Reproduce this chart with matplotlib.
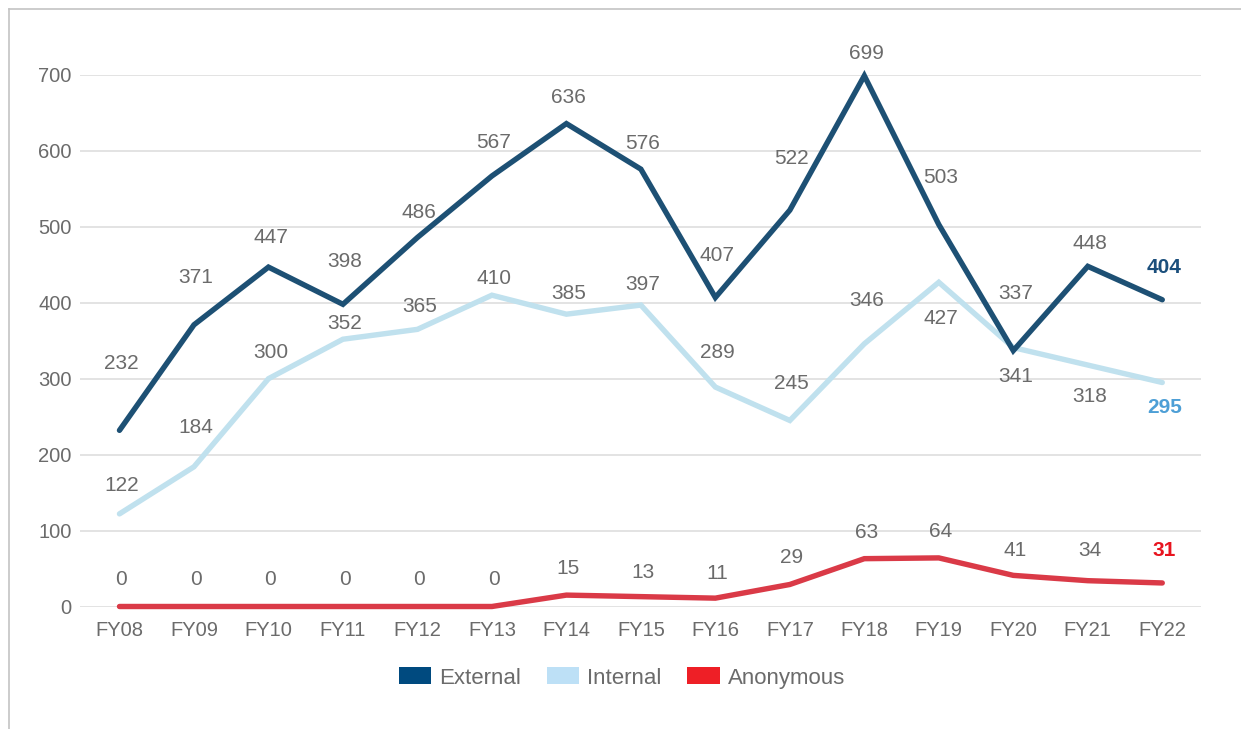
import matplotlib
matplotlib.use("Agg")
import matplotlib.pyplot as plt
from matplotlib.patches import Patch
from matplotlib.lines import Line2D

# ---- data -------------------------------------------------------------
years = ["FY08", "FY09", "FY10", "FY11", "FY12", "FY13", "FY14", "FY15",
         "FY16", "FY17", "FY18", "FY19", "FY20", "FY21", "FY22"]
external = [232, 371, 447, 398, 486, 567, 636, 576, 407, 522, 699, 503, 337, 448, 404]
internal = [122, 184, 300, 352, 365, 410, 385, 397, 289, 245, 346, 427, 341, 318, 295]
anonymous = [0, 0, 0, 0, 0, 0, 15, 13, 11, 29, 63, 64, 41, 34, 31]
y_ticks = [0, 100, 200, 300, 400, 500, 600, 700]

# label placement (pixels above the point; negative = below)
ext_label_dy = [67, 47, 30, 43, 25, 33, 26, 26, 42, 52, 22, 47, 57, 23, 32]
int_label_dy = [28, 39, 26, 16, 23, 17, 21, 21, 35, 37, 43, -36, -29, -31, -25]
anon_label_dy = [27, 27, 27, 27, 27, 27, 27, 24, 25, 27, 26, 26, 25, 30, 32]

# ---- styling ----------------------------------------------------------
FONT = ["Liberation Sans", "DejaVu Sans"]
plt.rcParams["font.family"] = FONT
TEXT_GRAY = "#6b6b6b"
EXT_LINE, EXT_PATCH, EXT_BOLD = "#1d5074", "#004a7f", "#1b4f7c"
INT_LINE, INT_PATCH, INT_BOLD = "#c0e1ee", "#bde0f6", "#4d9fd6"
ANO_LINE, ANO_PATCH, ANO_BOLD = "#da3a47", "#ee1f26", "#e8141f"

W, H = 1241, 729
fig = plt.figure(figsize=(W / 100, H / 100), dpi=100)
fig.patch.set_facecolor("white")

# outer frame (left and top edges)
fig.add_artist(Line2D([8.5 / W, 8.5 / W], [0, 1 - 9 / H], transform=fig.transFigure,
                      color="#c4c4c4", lw=1.2))
fig.add_artist(Line2D([8.5 / W, 1], [1 - 9 / H, 1 - 9 / H], transform=fig.transFigure,
                      color="#c4c4c4", lw=1.2))

left, right = 80 / W, 1201 / W
bottom, top = (H - 606.5) / H, (H - 75) / H
ax = fig.add_axes([left, bottom, right - left, top - bottom])

x = list(range(len(years)))
ax.set_xlim(-0.53, 14.52)
ax.set_ylim(0, 700)

for v in y_ticks:
    ax.axhline(v, color="#e0e0e0", lw=1.3, zorder=0)

line_kw = dict(lw=3.9, solid_capstyle="round", solid_joinstyle="miter", clip_on=False)
ax.plot(x, internal, color=INT_LINE, zorder=2, **line_kw)
ax.plot(x, external, color=EXT_LINE, zorder=3, **line_kw)
ax.plot(x, anonymous, color=ANO_LINE, zorder=4, **line_kw)


def label_series(values, offsets, bold_color):
    last = len(values) - 1
    for i, (v, dy) in enumerate(zip(values, offsets)):
        is_last = i == last
        ax.annotate(str(v), (i, v), xytext=(2, dy), textcoords="offset pixels",
                    ha="center", va="center", fontsize=15,
                    color=bold_color if is_last else TEXT_GRAY,
                    fontweight="bold" if is_last else "normal",
                    annotation_clip=False, zorder=5)


label_series(external, ext_label_dy, EXT_BOLD)
label_series(internal, int_label_dy, INT_BOLD)
label_series(anonymous, anon_label_dy, ANO_BOLD)

ax.set_xticks(x)
ax.set_xticklabels(years)
ax.set_yticks(y_ticks)
ax.set_yticklabels([str(v) for v in y_ticks])
ax.tick_params(axis="both", length=0, labelsize=14.5, labelcolor=TEXT_GRAY)
ax.tick_params(axis="x", pad=10.5)
ax.tick_params(axis="y", pad=6)
for s in ax.spines.values():
    s.set_visible(False)

handles = [Patch(facecolor=EXT_PATCH, edgecolor="none", label="External"),
           Patch(facecolor=INT_PATCH, edgecolor="none", label="Internal"),
           Patch(facecolor=ANO_PATCH, edgecolor="none", label="Anonymous")]
leg = fig.legend(handles=handles, loc="center", bbox_to_anchor=(622 / W, 1 - 678 / H),
                 ncol=3, frameon=False, fontsize=16, handlelength=1.45,
                 handleheight=0.78, handletextpad=0.38, columnspacing=1.15)
for t in leg.get_texts():
    t.set_color(TEXT_GRAY)

fig.savefig("out.png", dpi=100)
